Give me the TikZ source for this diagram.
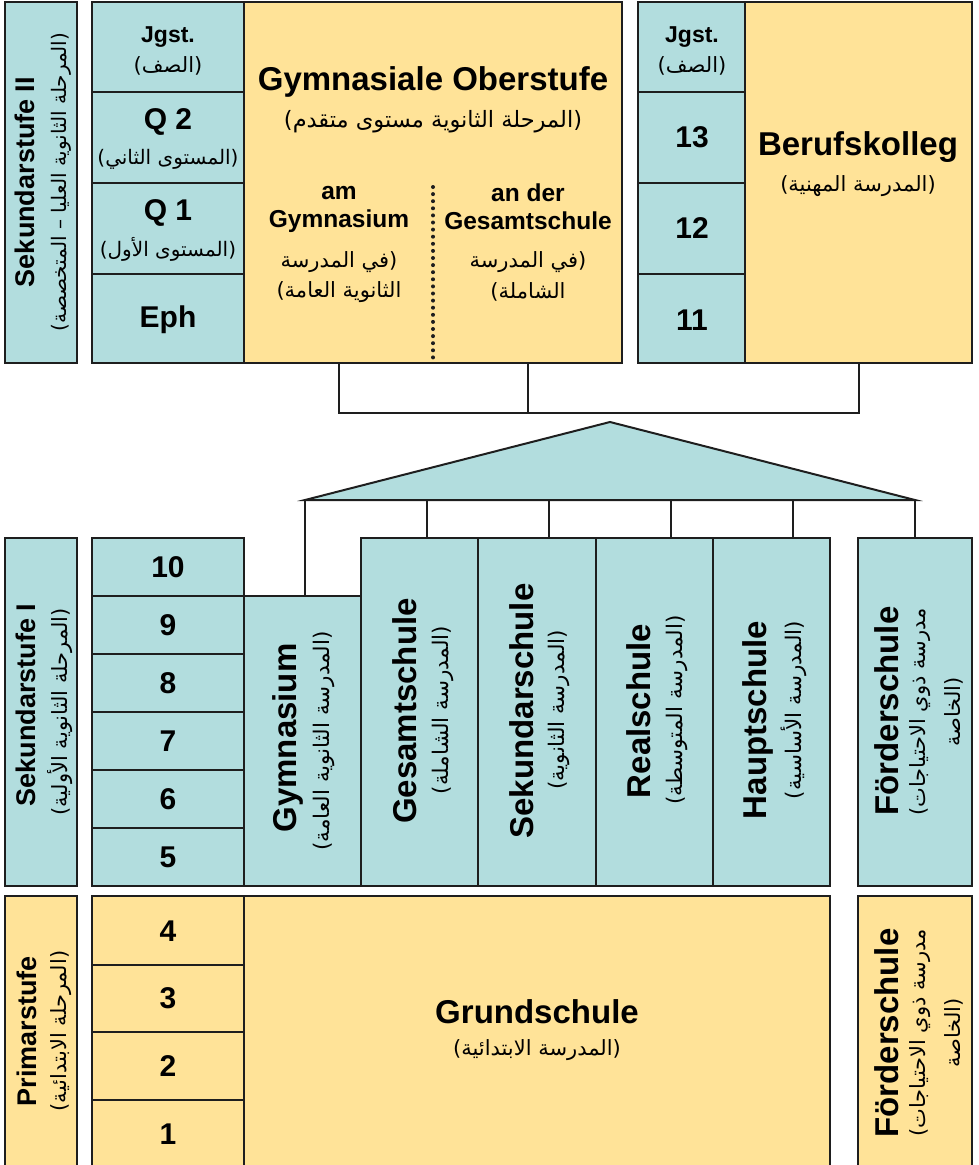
\documentclass[tikz,border=0pt]{standalone}
\usepackage{fontspec}
\setmainfont{Liberation Sans}
\newfontfamily\arfont[Script=Arabic]{DejaVu Sans}
\TeXXeTstate=1
\usetikzlibrary{calc}
\definecolor{bl}{HTML}{B2DDDE}
\definecolor{ye}{HTML}{FFE398}
\definecolor{ln}{HTML}{1E1E1E}
\newcommand\mkbox[6]{\node[bx,fill=#6,minimum width={(#4)-(#2)},minimum height={(#5)-(#3)}] (#1) at ({((#2)+(#4))/2},{((#3)+(#5))/2}) {};}
% visual parentheses (the Arabic font mirrors them)
\newcommand\LP{)}
\newcommand\RP{(}
\tikzset{
  bx/.style={draw=ln, line width=2pt, inner sep=0pt, outer sep=0pt},
  conn/.style={draw=ln, line width=2pt},
  de/.style={inner sep=0pt, text=black, font=\fontsize{#1}{#1}\selectfont\bfseries},
  arab/.style={inner sep=0pt, text=black, font=\arfont\fontsize{#1}{#1}\selectfont},
}
\begin{document}
\begin{tikzpicture}[x=1pt,y=-1pt]
\useasboundingbox (0,0) rectangle (978,1165);
\clip (0,0) rectangle (978,1165);
% ---------- upper section ----------
\mkbox{s2}{5}{2}{77}{363}{bl}
\mkbox{jg}{92}{2}{244}{92}{bl}
\mkbox{q2}{92}{92}{244}{183}{bl}
\mkbox{q1}{92}{183}{244}{274}{bl}
\mkbox{eph}{92}{274}{244}{363}{bl}
\mkbox{gymO}{244}{2}{622}{363}{ye}
\mkbox{jgr}{638}{2}{745}{92}{bl}
\mkbox{g13}{638}{92}{745}{183}{bl}
\mkbox{g12}{638}{183}{745}{274}{bl}
\mkbox{g11}{638}{274}{745}{363}{bl}
\mkbox{beruf}{745}{2}{972}{363}{ye}
% dotted separator
\draw[ln, line width=4pt, line cap=round, dash pattern=on 0pt off 7.1pt] ($(gymO.north)+(0,185)$) -- ($(gymO.south)+(0,-5)$);
% texts upper
\node[de=27, rotate=90] (ts2) at (25,182) {Sekundarstufe II};
\node[arab=20, rotate=90] (ts2a) at (61,182) {\LP\beginR المرحلة الثانوية العليا – المتخصصة\endR\RP};
\node[de=23] (tjg) at (168,37) {Jgst.};
\node[arab=21] (tjga) at (168,66) {\LP\beginR الصف\endR\RP};
\node[de=30] (tq2) at (168,122) {Q 2};
\node[arab=20] (tq2a) at (168,159) {\LP\beginR المستوى الثاني\endR\RP};
\node[de=30] (tq1) at (168,213) {Q 1};
\node[arab=20] (tq1a) at (168,249) {\LP\beginR المستوى الأول\endR\RP};
\node[de=30] (teph) at (168,320) {Eph};
\node[de=33] (tgo) at (433,82) {Gymnasiale Oberstufe};
\node[arab=22.5] (tgoa) at (433,122) {\LP\beginR المرحلة الثانوية مستوى متقدم\endR\RP};
\node[de=24.5] (tam) at (339,193) {am};
\node[de=24.5] (tamg) at (339,221) {Gymnasium};
\node[arab=21] (tama1) at (339,262) {\beginR في المدرسة\endR\RP};
\node[arab=21] (tama2) at (339,292) {\LP\beginR الثانوية العامة\endR};
\node[de=24.5] (tan) at (528,193) {an der};
\node[de=24.5] (tang) at (528,221) {Gesamtschule};
\node[arab=21] (tana1) at (528,262) {\beginR في المدرسة\endR\RP};
\node[arab=21] (tana2) at (528,292) {\LP\beginR الشاملة\endR};
\node[de=23] (tjgr) at (692,37) {Jgst.};
\node[arab=21] (tjgra) at (692,66) {\LP\beginR الصف\endR\RP};
\node[de=30] (t13) at (692,137) {13};
\node[de=30] (t12) at (692,228) {12};
\node[de=30] (t11) at (692,320) {11};
\node[de=33] (tbk) at (858,147) {Berufskolleg};
\node[arab=21] (tbka) at (858,186) {\LP\beginR المدرسة المهنية\endR\RP};
% ---------- lower section ----------
\mkbox{s1}{5}{538}{77}{886}{bl}
\mkbox{g10}{92}{538}{244}{596}{bl}
\mkbox{g9}{92}{596}{244}{654}{bl}
\mkbox{g8}{92}{654}{244}{712}{bl}
\mkbox{g7}{92}{712}{244}{770}{bl}
\mkbox{g6}{92}{770}{244}{828}{bl}
\mkbox{g5}{92}{828}{244}{886}{bl}
\mkbox{gymL}{244}{596}{361}{886}{bl}
\mkbox{gesL}{361}{538}{478}{886}{bl}
\mkbox{sekL}{478}{538}{596}{886}{bl}
\mkbox{realL}{596}{538}{713}{886}{bl}
\mkbox{hauL}{713}{538}{830}{886}{bl}
\mkbox{foeL}{858}{538}{972}{886}{bl}
% primary
\mkbox{prim}{5}{896}{77}{1168}{ye}
\mkbox{g4}{92}{896}{244}{965}{ye}
\mkbox{g3}{92}{965}{244}{1032}{ye}
\mkbox{g2}{92}{1032}{244}{1100}{ye}
\mkbox{g1}{92}{1100}{244}{1168}{ye}
\mkbox{grund}{244}{896}{830}{1168}{ye}
\mkbox{foeP}{858}{896}{972}{1168}{ye}
% ---------- connectors ----------
\coordinate (c1) at ($(gymO.south west)!0.25!(gymO.south east)$);
\coordinate (c2) at ($(gymO.south west)!0.75!(gymO.south east)$);
\draw[conn] (c1) -- ++(0,50) -| (beruf.south);
\draw[conn] (c2) -- ++(0,50);
\coordinate (tA) at (610,422);
\coordinate (tb1) at (305,500);
\coordinate (tb2) at (427,500);
\coordinate (tb3) at (549,500);
\coordinate (tb4) at (671,500);
\coordinate (tb5) at (793,500);
\coordinate (tb6) at (915,500);
\draw[bx, fill=bl, line join=miter] (tb1) -- (tA) -- (tb6) -- cycle;
\draw[conn] (tb1) -- (tb1 |- gymL.north);
\draw[conn] (tb2) -- (tb2 |- gesL.north);
\draw[conn] (tb3) -- (tb3 |- sekL.north);
\draw[conn] (tb4) -- (tb4 |- realL.north);
\draw[conn] (tb5) -- (tb5 |- hauL.north);
\draw[conn] (tb6) -- (tb6 |- foeL.north);
% texts lower
\node[de=27, rotate=90] (ts1) at (26,705) {Sekundarstufe I};
\node[arab=21, rotate=90] (ts1a) at (60,712) {\LP\beginR المرحلة الثانوية الأولية\endR\RP};
\node[de=30] (t10) at (168,567) {10};
\node[de=30] (t9) at (168,625) {9};
\node[de=30] (t8) at (168,683) {8};
\node[de=30] (t7) at (168,741) {7};
\node[de=30] (t6) at (168,799) {6};
\node[de=30] (t5) at (168,857) {5};
\node[de=33, rotate=90] (tgym) at (288,738) {Gymnasium};
\node[arab=21.5, rotate=90] (tgyma) at (324,741) {\LP\beginR المدرسة الثانوية العامة\endR\RP};
\node[de=33, rotate=90] (tges) at (405,711) {Gesamtschule};
\node[arab=21.5, rotate=90] (tgesa) at (443,710) {\LP\beginR المدرسة الشاملة\endR\RP};
\node[de=33, rotate=90] (tsek) at (522,711) {Sekundarschule};
\node[arab=21.5, rotate=90] (tseka) at (559,710) {\LP\beginR المدرسة الثانوية\endR\RP};
\node[de=33, rotate=90] (treal) at (639,711) {Realschule};
\node[arab=21.5, rotate=90] (treala) at (677,710) {\LP\beginR المدرسة المتوسطة\endR\RP};
\node[de=33, rotate=90] (thau) at (758,720) {Hauptschule};
\node[arab=21.5, rotate=90] (thaua) at (794,710) {\LP\beginR المدرسة الأساسية\endR\RP};
\node[de=33, rotate=90] (tfoe) at (887,711) {Förderschule};
\node[arab=21, rotate=90] (tfoea1) at (920,712) {\LP\beginR مدرسة ذوي الاحتياجات\endR};
\node[arab=21, rotate=90] (tfoea2) at (954,712) {\beginR الخاصة\endR\RP};
% primary texts
\node[de=27, rotate=90] (tpr) at (27,1031) {Primarstufe};
\node[arab=21, rotate=90] (tpra) at (61,1031) {\LP\beginR المرحلة الابتدائية\endR\RP};
\node[de=30] (t4) at (168,931) {4};
\node[de=30] (t3) at (168,998) {3};
\node[de=30] (t2) at (168,1066) {2};
\node[de=30] (t1) at (168,1134) {1};
\node[de=33] (tgr) at (537,1012) {Grundschule};
\node[arab=21] (tgra) at (537,1050) {\LP\beginR المدرسة الابتدائية\endR\RP};
\node[de=33, rotate=90] (tfoe2) at (887,1033) {Förderschule};
\node[arab=21, rotate=90] (tfoe2a1) at (920,1033) {\LP\beginR مدرسة ذوي الاحتياجات\endR};
\node[arab=21, rotate=90] (tfoe2a2) at (954,1033) {\beginR الخاصة\endR\RP};
\end{tikzpicture}
\end{document}
